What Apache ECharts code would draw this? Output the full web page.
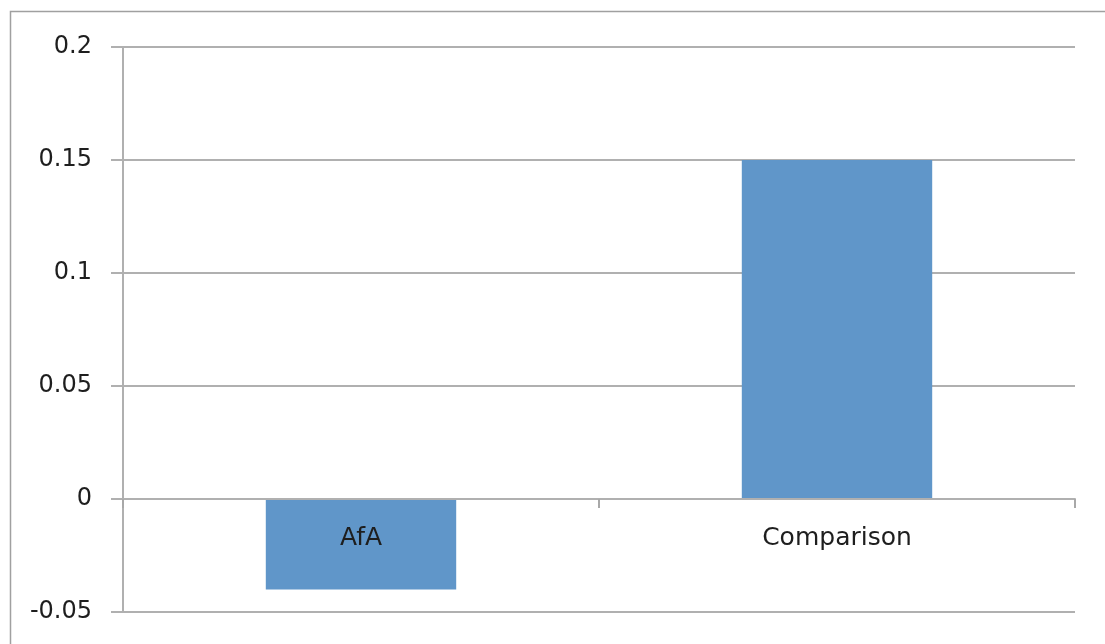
<!DOCTYPE html>
<html>
<head>
<meta charset="utf-8">
<script src="https://cdn.jsdelivr.net/npm/echarts@6/dist/echarts.min.js"></script>
<style>
html,body{margin:0;padding:0;background:#fff;}
#chart{width:1105px;height:644px;}
</style>
</head>
<body>
<div id="chart"></div>
<script>
const categories = ['AfA', 'Comparison'];
const values = [-0.04, 0.15];
const yTicks = { min: -0.05, max: 0.2, interval: 0.05 };

const chart = echarts.init(document.getElementById('chart'), null, { renderer: 'canvas' });
const font = 'DejaVu Sans';
chart.setOption({
  animation: false,
  backgroundColor: '#ffffff',
  grid: { left: 123, right: 30, top: 47, bottom: 32, containLabel: false, outerBoundsMode: 'none' },
  graphic: [{
    type: 'rect',
    shape: { x: 10.5, y: 11.5, width: 1200, height: 800 },
    style: { fill: 'none', stroke: '#a0a0a0', lineWidth: 1.5 },
    silent: true
  }],
  xAxis: {
    type: 'category',
    data: categories,
    z: 5,
    position: 'bottom',
    offset: -113,
    axisLine: { onZero: false, lineStyle: { color: '#b0b0b0', width: 2 } },
    axisTick: { show: true, alignWithLabel: false, length: 9, lineStyle: { color: '#a8a8a8', width: 2 } },
    axisLabel: { margin: 27, fontFamily: font, fontSize: 25, color: '#1e1e1e' },
    splitLine: { show: false }
  },
  yAxis: {
    type: 'value',
    min: yTicks.min,
    max: yTicks.max,
    interval: yTicks.interval,
    axisLine: { show: true, lineStyle: { color: '#b0b0b0', width: 2 } },
    axisTick: { show: true, length: 12, lineStyle: { color: '#b0b0b0', width: 2 } },
    axisLabel: { margin: 31, fontFamily: font, fontSize: 24, color: '#1e1e1e', padding: [6, 0, 0, 0] },
    splitLine: { show: true, lineStyle: { color: '#b0b0b0', width: 2 } }
  },
  series: [{
    type: 'bar',
    data: values,
    barCategoryGap: '60%',
    itemStyle: { color: '#6096c9' }
  }]
});
</script>
</body>
</html>
